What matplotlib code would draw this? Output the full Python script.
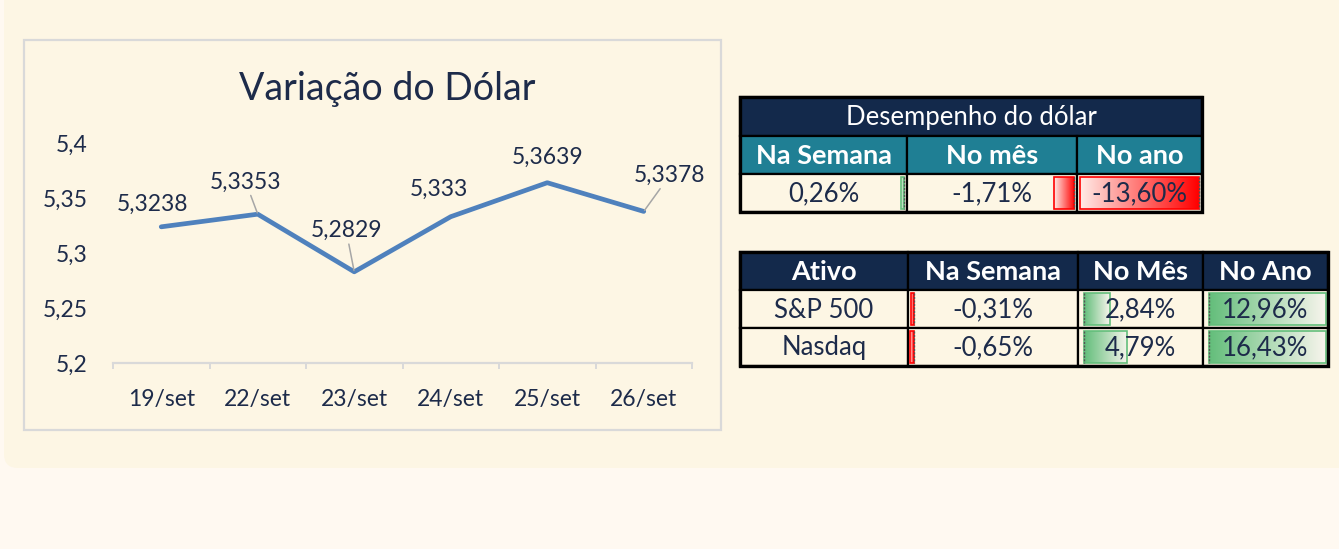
import numpy as np
import matplotlib
matplotlib.use("Agg")
import matplotlib.pyplot as plt
from matplotlib.patches import Rectangle, FancyBboxPatch

# dados do grafico
datas = ["19/set", "22/set", "23/set", "24/set", "25/set", "26/set"]
dolar = [5.3238, 5.3353, 5.2829, 5.333, 5.3639, 5.3378]
rotulos = ["5,3238", "5,3353", "5,2829", "5,333", "5,3639", "5,3378"]

y_ticks = [5.2, 5.25, 5.3, 5.35, 5.4]
y_labels = ["5,2", "5,25", "5,3", "5,35", "5,4"]

# tabela 1
dolar_titulo = "Desempenho do dólar"
dolar_cols = ["Na Semana", "No mês", "No ano"]
dolar_perf = [0.26, -1.71, -13.60]

# tabela 2
ativo_cols = ["Ativo", "Na Semana", "No Mês", "No Ano"]
ativos = ["S&P 500", "Nasdaq"]
ativo_semana = [-0.31, -0.65]
ativo_mes = [2.84, 4.79]
ativo_ano = [12.96, 16.43]

plt.rcParams['font.family'] = ['Lato', 'DejaVu Sans']

TXT = '#1D2B4A'
NAVY = '#13294B'
TEAL = '#1F7F94'
CREME = '#FDF6E4'
PX = 0.72  # pixel -> pontos (dpi 100)
FS_CHART = 16.5
FS_TAB = 18.5
FS_HEAD = 19.5


def pct(v):
    return f"{v:.2f}%".replace('.', ',')


fig = plt.figure(figsize=(13.39, 5.49), dpi=100, facecolor='#FFF9F1')

bg = fig.add_axes([0, 0, 1, 1], zorder=0)
bg.set_xlim(0, 1339)
bg.set_ylim(549, 0)
bg.axis('off')

# painel creme
bg.add_patch(FancyBboxPatch((4, -30), 1400, 498, boxstyle="round,pad=0,rounding_size=14",
                            facecolor=CREME, edgecolor='none'))
# moldura do grafico
bg.add_patch(Rectangle((24, 40), 697, 390, facecolor=CREME, edgecolor='#D9D9D9', lw=1.6))
bg.text(387, 89, "Variação do Dólar", ha='center', va='center', fontsize=27, color=TXT)

# ---- grafico de linha ----
ax = fig.add_axes([113 / 1339, 1 - 363 / 549, 579 / 1339, 220 / 549], zorder=1)
ax.patch.set_alpha(0)
x = np.arange(len(datas))
ax.plot(x, dolar, color='#4F81BD', lw=3.4, solid_capstyle='round', solid_joinstyle='round')
ax.set_xlim(-0.5, len(datas) - 0.5)
ax.set_ylim(5.2, 5.4)
ax.set_yticks(y_ticks)
ax.set_yticklabels(y_labels)
ax.set_xticks(x)
ax.set_xticklabels(datas)
ax.set_xticks(np.arange(-0.5, len(datas), 1), minor=True)
ax.tick_params(axis='x', which='major', length=0, pad=19, labelsize=FS_CHART, labelcolor=TXT)
ax.tick_params(axis='x', which='minor', length=4.5, width=1.4, color='#D9D9D9', direction='out')
ax.tick_params(axis='y', length=0, pad=18, labelsize=FS_CHART, labelcolor=TXT)
for s in ['top', 'right', 'left']:
    ax.spines[s].set_visible(False)
ax.spines['bottom'].set_color('#D9D9D9')
ax.spines['bottom'].set_linewidth(1.6)

label_off = [(-9, 22), (-12, 32), (-8, 41), (-12, 27), (0, 25), (26, 36)]
leader = [False, True, True, False, False, True]
for i, (v, t) in enumerate(zip(dolar, rotulos)):
    dx, dy = label_off[i]
    props = dict(arrowstyle='-', color='#A6A6A6', lw=1.1, shrinkA=0, shrinkB=1) if leader[i] else None
    ax.annotate(t, (i, v), xytext=(dx * PX, dy * PX), textcoords='offset points',
                ha='center', va='center', fontsize=FS_CHART, color=TXT, arrowprops=props,
                annotation_clip=False)


# ---- tabelas ----
def cell(x0, x1, y0, y1, fc):
    bg.add_patch(Rectangle((x0, y0), x1 - x0, y1 - y0, facecolor=fc, edgecolor='black', lw=1.6))


def data_bar(x_axis, y0, y1, v, sentido, lim, escala=9):
    comp = min(abs(v) * escala, lim) * sentido
    cor = np.array([0.39, 0.745, 0.482]) if v > 0 else np.array([1.0, 0.0, 0.0])
    t = np.linspace(0, 1, 80)[:, None]
    img = (cor * (1 - t) + np.array([1.0, 0.97, 0.95]) * t * 0.95 + 0.05 * cor * t)[None, :, :]
    img = np.clip(img, 0, 1)
    bg.imshow(img, extent=(x_axis, x_axis + comp, y1, y0), aspect='auto',
              interpolation='bilinear', zorder=2)
    bg.add_patch(Rectangle((min(x_axis, x_axis + comp), y0), abs(comp), y1 - y0,
                           fill=False, edgecolor=cor, lw=1.2, zorder=3))
    bg.plot([x_axis, x_axis], [y0, y1], color='#555555', lw=1, ls=(0, (1.5, 1)), zorder=3)


def moldura(x0, x1, y0, y1):
    bg.add_patch(Rectangle((x0, y0), x1 - x0, y1 - y0, fill=False, edgecolor='black',
                           lw=2.4, zorder=5))


# tabela 1: desempenho do dolar
cx1 = [740, 907, 1077, 1202]
ry1 = [97, 136, 174, 212]
cell(cx1[0], cx1[-1], ry1[0], ry1[1], NAVY)
bg.text((cx1[0] + cx1[-1]) / 2, (ry1[0] + ry1[1]) / 2 + 1, dolar_titulo, ha='center', va='center',
        fontsize=18.5, color='white')
for j, col in enumerate(dolar_cols):
    cell(cx1[j], cx1[j + 1], ry1[1], ry1[2], TEAL)
    bg.text((cx1[j] + cx1[j + 1]) / 2, (ry1[1] + ry1[2]) / 2 + 1, col, ha='center', va='center',
            fontsize=FS_HEAD, color='white', fontweight='bold')
    cell(cx1[j], cx1[j + 1], ry1[2], ry1[3], CREME)
    data_bar(cx1[j + 1] - 3, ry1[2] + 3, ry1[3] - 3, dolar_perf[j], -1,
             cx1[j + 1] - cx1[j] - 6, escala=11.7)
    bg.text((cx1[j] + cx1[j + 1]) / 2, (ry1[2] + ry1[3]) / 2 + 1, pct(dolar_perf[j]),
            ha='center', va='center', fontsize=FS_TAB, color=TXT, zorder=4)
moldura(cx1[0], cx1[-1], ry1[0], ry1[-1])

# tabela 2: ativos
cx2 = [740, 908, 1078, 1203, 1328]
ry2 = [252, 290, 328, 366]
for j, col in enumerate(ativo_cols):
    cell(cx2[j], cx2[j + 1], ry2[0], ry2[1], NAVY)
    bg.text((cx2[j] + cx2[j + 1]) / 2, (ry2[0] + ry2[1]) / 2 + 1, col, ha='center', va='center',
            fontsize=FS_HEAD, color='white', fontweight='bold')

for i, nome in enumerate(ativos):
    y0, y1 = ry2[i + 1], ry2[i + 2]
    valores = [ativo_semana[i], ativo_mes[i], ativo_ano[i]]
    for j in range(4):
        cell(cx2[j], cx2[j + 1], y0, y1, CREME)
    bg.text((cx2[0] + cx2[1]) / 2, (y0 + y1) / 2 + 1, nome, ha='center', va='center',
            fontsize=FS_TAB, color=TXT, zorder=4)
    for j, v in enumerate(valores):
        xa = cx2[j + 1] + 6
        if v > 0:
            data_bar(xa, y0 + 3, y1 - 3, v, 1, cx2[j + 2] - xa - 2)
        else:
            data_bar(xa, y0 + 3, y1 - 3, v, -1, xa - cx2[j + 1] - 2)
        bg.text((cx2[j + 1] + cx2[j + 2]) / 2, (y0 + y1) / 2 + 1, pct(v), ha='center', va='center',
                fontsize=FS_TAB, color=TXT, zorder=4)
moldura(cx2[0], cx2[-1], ry2[0], ry2[-1])

bg.set_xlim(0, 1339)
bg.set_ylim(549, 0)

fig.savefig("out.png", dpi=100, facecolor=fig.get_facecolor())
